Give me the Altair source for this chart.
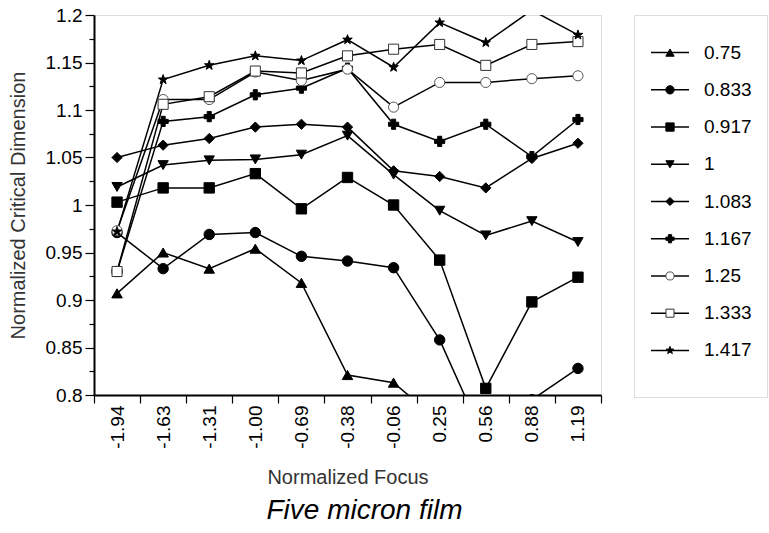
import altair as alt
import pandas as pd

# Normalized focus positions (categorical axis)
focus = ["-1.94", "-1.63", "-1.31", "-1.00", "-0.69", "-0.38",
         "-0.06", "0.25", "0.56", "0.88", "1.19"]

# Normalized critical dimension for each normalized dose
series_names = ["0.75", "0.833", "0.917", "1", "1.083",
                "1.167", "1.25", "1.333", "1.417"]

cd_075 = [0.907, 0.950, 0.933, 0.954, 0.918, 0.821, 0.813, 0.772, 0.760, 0.750, 0.760]
cd_0833 = [0.971, 0.933, 0.969, 0.971, 0.946, 0.941, 0.934, 0.858, 0.750, 0.795, 0.828]
cd_0917 = [1.003, 1.018, 1.018, 1.033, 0.996, 1.029, 1.000, 0.942, 0.807, 0.898, 0.924]
cd_1 = [1.019, 1.042, 1.047, 1.048, 1.053, 1.073, 1.032, 0.994, 0.968, 0.983, 0.961]
cd_1083 = [1.050, 1.063, 1.070, 1.082, 1.085, 1.082, 1.036, 1.030, 1.018, 1.049, 1.065]
cd_1167 = [0.930, 1.088, 1.093, 1.116, 1.123, 1.144, 1.085, 1.067, 1.085, 1.051, 1.090]
cd_125 = [0.973, 1.111, 1.111, 1.140, 1.131, 1.143, 1.103, 1.129, 1.129, 1.133, 1.136]
cd_1333 = [0.930, 1.106, 1.114, 1.141, 1.139, 1.157, 1.164, 1.169, 1.147, 1.169, 1.172]
cd_1417 = [0.972, 1.132, 1.147, 1.157, 1.152, 1.174, 1.145, 1.192, 1.171, 1.205, 1.179]

series_values = [cd_075, cd_0833, cd_0917, cd_1, cd_1083,
                 cd_1167, cd_125, cd_1333, cd_1417]

# Five-pointed star as a custom symbol path in the unit [-1, 1] box
STAR = ("M0,-1L0.235,-0.324L0.951,-0.309L0.38,0.124L0.588,0.809"
        "L0,0.4L-0.588,0.809L-0.38,0.124L-0.951,-0.309L-0.235,-0.324Z")

# Marker styling per series
shapes = ["triangle-up", "circle", "square", "triangle-down", "diamond",
          "cross", "circle", "square", STAR]
fills = ["black", "black", "black", "black", "black",
         "black", "white", "white", "black"]
strokes = ["black", "black", "black", "black", "black",
           "black", "#555555", "#333333", "black"]
sizes = [110, 100, 90, 110, 90, 110, 110, 90, 150]
legend_sizes = [70, 64, 56, 70, 56, 70, 70, 56, 95]

rows = []
for name, vals in zip(series_names, series_values):
    for i, (f, v) in enumerate(zip(focus, vals)):
        rows.append({"series": name, "focus": f, "idx": i, "cd": v})
df = pd.DataFrame(rows)

FONT = "Liberation Sans"
major_test = "round(datum.value * 1000) % 50 == 0"
y_ticks = [round(0.8 + 0.025 * k, 3) for k in range(17)]

x_enc = alt.X(
    "focus:O",
    sort=focus,
    scale=alt.Scale(type="band", paddingInner=0, paddingOuter=0),
    axis=alt.Axis(
        title="Normalized Focus",
        labelAngle=270,
        labelFontSize=19,
        labelFont=FONT,
        labelColor="black",
        labelPadding=2,
        tickBand="extent",
        tickSize=8,
        tickColor="black",
        tickWidth=1.2,
        domainColor="black",
        domainWidth=2,
        titleFont=FONT,
        titleFontSize=20,
        titleFontWeight="normal",
        titleColor="#333333",
        titlePadding=19,
        grid=False,
    ),
)

y_enc = alt.Y(
    "cd:Q",
    scale=alt.Scale(domain=[0.8, 1.2], nice=False, zero=False),
    axis=alt.Axis(
        title="Normalized Critical Dimension",
        values=y_ticks,
        labelExpr=f"{major_test} ? format(datum.value, '.3~f') : ''",
        labelFontSize=19,
        labelFont=FONT,
        labelColor="black",
        labelPadding=3,
        tickSize={"condition": {"test": major_test, "value": 9}, "value": 5},
        tickColor="black",
        tickWidth=1.2,
        domainColor="black",
        domainWidth=2,
        titleFont=FONT,
        titleFontSize=20,
        titleFontWeight="normal",
        titleColor="#333333",
        titlePadding=17,
        grid=False,
    ),
)

shape_enc = alt.Shape("series:N", scale=alt.Scale(domain=series_names, range=shapes), legend=None)
fill_enc = alt.Fill("series:N", scale=alt.Scale(domain=series_names, range=fills), legend=None)
stroke_enc = alt.Stroke("series:N", scale=alt.Scale(domain=series_names, range=strokes), legend=None)

base = alt.Chart(df)

lines = base.mark_line(color="black", strokeWidth=1.5, clip=True).encode(
    x=x_enc, y=y_enc, detail="series:N", order="idx:Q"
)

points = base.mark_point(filled=True, opacity=1, strokeWidth=1, clip=True).encode(
    x=x_enc,
    y=y_enc,
    shape=shape_enc,
    fill=fill_enc,
    stroke=stroke_enc,
    size=alt.Size("series:N", scale=alt.Scale(domain=series_names, range=sizes), legend=None),
)

main = alt.layer(lines, points).properties(
    width=507,
    height=380,
    title=alt.TitleParams(
        "Five micron film",
        orient="bottom",
        font=FONT,
        fontSize=28,
        fontStyle="italic",
        fontWeight="normal",
        color="black",
        dx=17,
        offset=10,
    ),
)

# Boxed key: a short line through each marker, followed by its dose label
key_df = pd.DataFrame({"series": series_names})
key_y = alt.Y("series:N", sort=series_names,
              scale=alt.Scale(type="point", range=[19, 354]), axis=None)
key_base = alt.Chart(key_df).encode(y=key_y)

key_rules = key_base.mark_rule(color="black", strokeWidth=1.5).encode(
    x=alt.value(17), x2=alt.value(55)
)
key_points = key_base.mark_point(filled=True, opacity=1, strokeWidth=1).encode(
    x=alt.value(36),
    shape=shape_enc,
    fill=fill_enc,
    stroke=stroke_enc,
    size=alt.Size("series:N", scale=alt.Scale(domain=series_names, range=legend_sizes), legend=None),
)
key_text = key_base.mark_text(align="left", baseline="middle", font=FONT, fontSize=19, color="black").encode(
    x=alt.value(70), text="series:N"
)
key = alt.layer(key_rules, key_points, key_text).properties(width=133, height=382)

chart = (
    alt.hconcat(main, key, spacing=33, bounds="flush")
    .resolve_scale(size="independent")
    .configure_view(stroke="black", strokeWidth=1.5)
    .configure(padding={"left": 7, "top": 5, "right": 0, "bottom": 0}, background="white")
)

chart.save("out.html", embed_options={"renderer": "svg", "actions": False})
